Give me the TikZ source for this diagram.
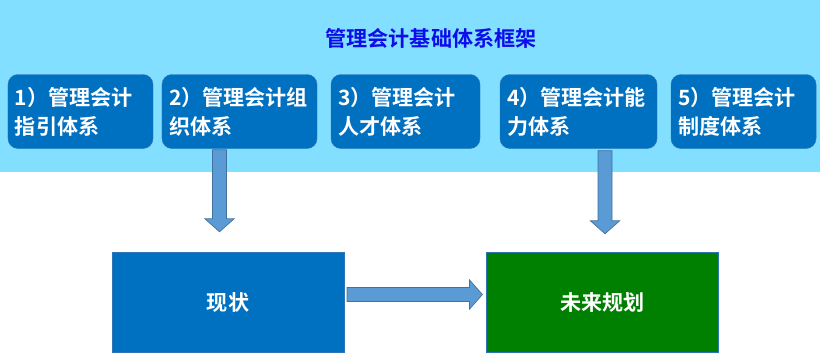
\documentclass[tikz,border=0pt]{standalone}
\usepackage{fontspec}
\usepackage{xcolor}
\usepackage{tikz}
\usetikzlibrary{
  arrows.meta,
  positioning,
  calc
}
\newfontfamily\cjk{Noto Sans CJK SC}[BoldFont={Noto Sans CJK SC Bold}]
\definecolor{FigBand}{HTML}{82DFFF}
\definecolor{FigTitle}{HTML}{0D0DEB}
\definecolor{FigBlue}{HTML}{0070C0}
\definecolor{FigBlueLine}{HTML}{2E75B6}
\definecolor{FigGreen}{HTML}{008000}
\definecolor{FigArrow}{HTML}{5B9BD5}
\definecolor{FigArrowLine}{HTML}{41719C}

% block arrow from #1 to #2
\newcommand{\blockarrow}[2]{%
  \path ($(#2)!0.39cm!(#1)$) coordinate (hb);
  \draw[bigarrow] ($(#1)!0.21cm!90:(hb)$) -- ($(hb)!0.21cm!90:(#2)$)
    -- ($(hb)!0.44cm!90:(#2)$) -- (#2) -- ($(hb)!0.44cm!-90:(#2)$)
    -- ($(hb)!0.21cm!-90:(#2)$) -- ($(#1)!0.21cm!-90:(hb)$) -- cycle;
}

\begin{document}
\begin{tikzpicture}[
x=0.03cm, y=-0.03cm,
font=\cjk\bfseries\fontsize{18pt}{24.7pt}\selectfont,
part/.style={
fill=FigBlue,
draw=FigBlueLine,
rounded corners=0.3cm,
inner sep=0pt,
minimum height=2.22cm,
align=left,
text=white
},
stage/.style={
draw=FigBlueLine,
inner sep=0pt,
minimum width=6.95cm,
minimum height=3cm,
text=white
},
bigarrow/.style={fill=FigArrow, draw=FigArrowLine, line width=0.6pt}
]
\useasboundingbox (0,0) rectangle (820,353);

% Light band behind the five parts
\fill[FigBand] (0,0) rectangle (820,172);

% Title
\node[text=FigTitle] (title) at (431,38) {管理会计基础体系框架};

% Five parts
\node[part, minimum width=4.35cm, text width=3.93cm] (guide) at (80.5,111.5) {1）管理会计\\指引体系};
\node[part, minimum width=4.65cm, text width=4.23cm] (org) at (239.5,111.5) {2）管理会计组\\织体系};
\node[part, minimum width=4.47cm, text width=4.05cm] (talent) at (405.5,111.5) {3）管理会计\\人才体系};
\node[part, minimum width=4.71cm, text width=4.29cm] (ability) at (578.5,111.5) {4）管理会计能\\力体系};
\node[part, minimum width=4.35cm, text width=3.93cm] (rule) at (743.5,111.5) {5）管理会计\\制度体系};

% Current state and future plan
\node[stage, fill=FigBlue] (now) at (228,302) {现状};
\node[stage, fill=FigGreen] (plan) at (602.5,302) {未来规划};

% Arrows
\coordinate (d1s) at ($(org.south)+(-20,1)$);
\coordinate (d1e) at ($(now.north)+(-8.5,-20)$);
\coordinate (d2s) at ($(ability.south)+(26.5,2)$);
\coordinate (d2e) at ($(plan.north)+(2.5,-18)$);
\coordinate (rs) at ($(now.east)+(3,-7.5)$);
\coordinate (re) at ($(plan.west)+(-4,-7.5)$);
\blockarrow{d1s}{d1e}
\blockarrow{d2s}{d2e}
\blockarrow{rs}{re}

\end{tikzpicture}
\end{document}
